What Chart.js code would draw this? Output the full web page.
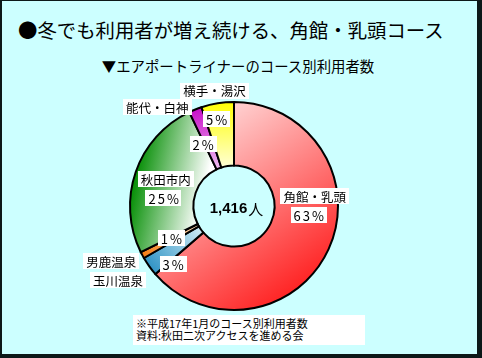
<!DOCTYPE html>
<html lang="ja">
<head>
<meta charset="utf-8">
<script src="https://cdn.jsdelivr.net/npm/chart.js"></script>
<style>
  html, body { margin: 0; padding: 0; background: #0c1818; }
  #stage { position: relative; width: 482px; height: 358px; overflow: hidden; }
  #frame { position: absolute; left: 2px; top: 1px; width: 475px; height: 353px; background: #ccffff; }
  #chartBox { position: absolute; left: 0; top: 0; width: 482px; height: 358px; }
  .jp { font-family: "Noto Sans CJK JP", sans-serif; color: #000; position: absolute; white-space: nowrap; }
  #title { left: 18px; top: 16px; font-size: 19.4px; line-height: 28px; }
  #subtitle { left: 0; width: 476px; text-align: center; top: 56px; font-size: 14.4px; line-height: 20px; }
  #note { left: 133px; top: 315px; width: 232px; height: 30px; background: #fff; font-size: 11px; line-height: 11.5px; padding: 3px 0 0 3px; box-sizing: border-box; }
</style>
</head>
<body>
<div id="stage">
  <div id="frame"></div>
  <div id="title" class="jp">●冬でも利用者が増え続ける、角館・乳頭コース</div>
  <div id="subtitle" class="jp">▼エアポートライナーのコース別利用者数</div>
  <div id="note" class="jp">※平成17年1月のコース別利用者数<br>資料:秋田二次アクセスを進める会</div>
  <div id="chartBox"><canvas id="donut"></canvas></div>
</div>
<script>
// course shares (% of users, Jan. H17)
const courses = ['角館・乳頭', '玉川温泉', '男鹿温泉', '秋田市内', '能代・白神', '横手・湯沢'];
const shares = [63, 3, 1, 25, 2, 5];
const totalUsers = '1,416';
const totalUnit = '人';

// styling (kept apart from the data)
const darkColors = ['#ff2424', '#2e92c4', '#f47a10', '#008c00', '#c80cc8', '#ffff00'];
const lightColors = ['#ffe4e4', '#e2f6fc', '#ffe8d0', '#ffffff', '#f4d4f6', '#ffffec'];
const gradAngles = [145, 230, 242, 282, 345, 0];   // direction of colour fade, deg from 12 o'clock
const gradReach = [-1, 0.3, 0.3, 0.3, 0.3, 0.3];    // where the light end sits, fraction of radius
const CUTOUT = 0.39;

// label placement: [dx, dy] from the slice's own tooltip point
const nameOffsets = [[15, -40], [-57, 32], [-59, 21], [0, -3], [-50, -32], [-8, -44]];
const pctOffsets = [[9, -21], [-2, 16], [1, -2], [-2, 16], [-4, 5], [-6, -16]];

function sliceFill(context) {
    const i = context.dataIndex;
    const chart = context.chart;
    const area = chart.chartArea;
    if (!area || i === undefined) return darkColors[i] || '#ccc';
    const cx = (area.left + area.right) / 2;
    const cy = (area.top + area.bottom) / 2;
    const R = Math.min(area.width, area.height) / 2;
    const a = gradAngles[i] * Math.PI / 180;
    const dx = Math.sin(a), dy = -Math.cos(a);
    const p1 = gradReach[i] * R;
    const g = chart.ctx.createLinearGradient(cx + dx * R, cy + dy * R, cx + dx * p1, cy + dy * p1);
    g.addColorStop(0, darkColors[i]);
    g.addColorStop(1, lightColors[i]);
    return g;
}

function boxText(ctx, text, x, y, spacing) {
    ctx.letterSpacing = (spacing || 0) + 'px';
    const w = ctx.measureText(text).width - (spacing || 0);
    ctx.fillStyle = '#fff';
    ctx.fillRect(Math.round(x - w / 2 - 3), Math.round(y - 8), Math.round(w + 6), 16);
    ctx.fillStyle = '#000';
    ctx.fillText(text, x - w / 2, y + 1);
    ctx.letterSpacing = '0px';
}

const labelPlugin = {
    id: 'sliceLabels',
    afterDatasetsDraw(chart) {
        const ctx = chart.ctx;
        const meta = chart.getDatasetMeta(0);
        ctx.save();
        ctx.textBaseline = 'middle';
        ctx.textAlign = 'left';
        meta.data.forEach((arc, i) => {
            const p = arc.tooltipPosition(true);
            ctx.font = '12.5px "Noto Sans CJK JP"';
            const n = nameOffsets[i];
            boxText(ctx, courses[i], p.x + n[0], p.y + n[1], 0);
            ctx.font = '13px "Noto Sans CJK JP"';
            const q = pctOffsets[i];
            boxText(ctx, shares[i] + '%', p.x + q[0], p.y + q[1], 2);
        });
        // total in the hole
        const cx = (chart.chartArea.left + chart.chartArea.right) / 2;
        const cy = (chart.chartArea.top + chart.chartArea.bottom) / 2;
        ctx.font = 'bold 15px "Liberation Sans"';
        const w1 = ctx.measureText(totalUsers).width;
        ctx.font = '15px "Noto Sans CJK JP"';
        const w2 = ctx.measureText(totalUnit).width;
        let x = cx + 2 - (w1 + w2) / 2;
        ctx.fillStyle = '#000';
        ctx.font = 'bold 15px "Liberation Sans"';
        ctx.fillText(totalUsers, x, cy + 3);
        ctx.font = '15px "Noto Sans CJK JP"';
        ctx.fillText(totalUnit, x + w1 + 1, cy + 3);
        ctx.restore();
    }
};

new Chart(document.getElementById('donut'), {
    type: 'doughnut',
    data: {
        labels: courses,
        datasets: [{
            data: shares,
            backgroundColor: sliceFill,
            borderColor: '#000',
            borderWidth: 2,
            borderJoinStyle: 'miter',
            borderAlign: 'center'
        }]
    },
    options: {
        responsive: true,
        maintainAspectRatio: false,
        animation: false,
        cutout: (CUTOUT * 100) + '%',
        rotation: 0,
        layout: { padding: { left: 129, right: 143, top: 101, bottom: 47 } },
        plugins: {
            legend: { display: false },
            tooltip: { enabled: false },
            title: { display: false }
        }
    },
    plugins: [labelPlugin]
});
</script>
</body>
</html>
